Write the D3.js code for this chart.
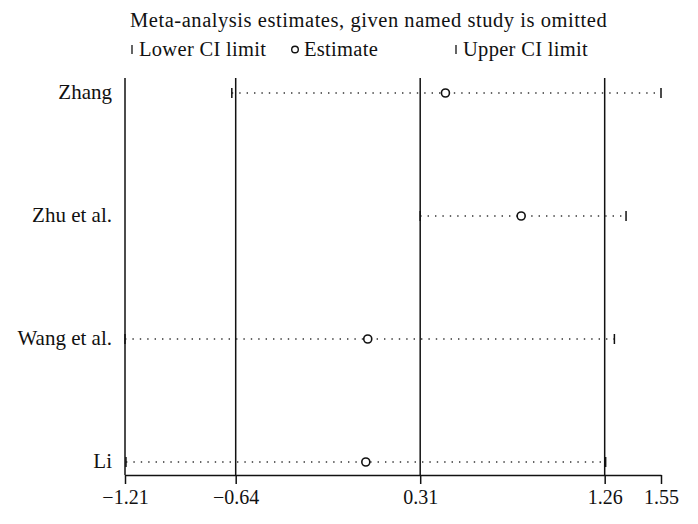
<!DOCTYPE html>
<html>
<head>
<meta charset="utf-8">
<script src="https://cdn.jsdelivr.net/npm/d3@7/dist/d3.min.js"></script>
<style>
html, body { margin: 0; padding: 0; background: #fff; }
svg { display: block; }
</style>
</head>
<body>
<svg id="chart" width="698" height="524"></svg>
<script>
// ---- data ----
const studies = ["Zhang", "Zhu et al.", "Wang et al.", "Li"];
const lowerCI = [-0.66, 0.31, -1.21, -1.205];
const estimate = [0.44, 0.83, 0.04, 0.03];
const upperCI = [1.55, 1.37, 1.31, 1.265];
const overall = [-0.64, 0.31, 1.26]; // lower, estimate, upper of full analysis
const tickValues = [-1.21, -0.64, 0.31, 1.26, 1.55];
const tickLabels = ["\u22121.21", "\u22120.64", "0.31", "1.26", "1.55"];
const title = "Meta-analysis estimates, given named study is omitted";
const legendLabels = ["Lower CI limit", "Estimate", "Upper CI limit"];

// ---- layout ----
const FONT = '"Liberation Serif", "Times New Roman", serif';
const svg = d3.select("#chart");
const x = d3.scaleLinear().domain([-1.21, 1.55]).range([125, 661]);
const y = d3.scalePoint().domain(studies).range([93, 462]);
const plotTop = 78, axisY = 475;

// title
svg.append("text").attr("x", 130).attr("y", 27)
  .style("font-family", FONT).style("font-size", "20.5px").style("letter-spacing", "0.55px")
  .attr("fill", "#111").text(title);

// legend
const lg = svg.append("g");
const legX = [132, 295, 456];
const legText = (xx, t) => lg.append("text").attr("x", xx).attr("y", 56)
  .style("font-family", FONT).style("font-size", "20.5px").style("letter-spacing", "0.3px")
  .attr("fill", "#111").text(t);
lg.append("line").attr("x1", legX[0]).attr("x2", legX[0]).attr("y1", 45).attr("y2", 54)
  .attr("stroke", "#111").attr("stroke-width", 1.3);
legText(legX[0] + 7, legendLabels[0]);
lg.append("circle").attr("cx", legX[1]).attr("cy", 49.5).attr("r", 3.3)
  .attr("fill", "none").attr("stroke", "#111").attr("stroke-width", 1.4);
legText(legX[1] + 9, legendLabels[1]);
lg.append("line").attr("x1", legX[2]).attr("x2", legX[2]).attr("y1", 45).attr("y2", 54)
  .attr("stroke", "#111").attr("stroke-width", 1.3);
legText(legX[2] + 7, legendLabels[2]);

// left axis line and reference vertical lines
svg.append("line").attr("x1", x(-1.21)).attr("x2", x(-1.21)).attr("y1", plotTop).attr("y2", axisY)
  .attr("stroke", "#111").attr("stroke-width", 1.5);
svg.selectAll("line.ref").data(overall).join("line").attr("class", "ref")
  .attr("x1", d => x(d)).attr("x2", d => x(d)).attr("y1", plotTop).attr("y2", axisY)
  .attr("stroke", "#111").attr("stroke-width", 1.5);

// bottom axis
const axis = d3.axisBottom(x).tickValues(tickValues)
  .tickFormat((d, i) => tickLabels[i]).tickSize(9).tickPadding(6).tickSizeOuter(0);
const ag = svg.append("g").attr("transform", `translate(0,${axisY})`).call(axis);
ag.attr("font-family", null).attr("font-size", null);
ag.select(".domain").attr("stroke", "#111").attr("stroke-width", 1.5);
ag.selectAll(".tick line").attr("stroke", "#111").attr("stroke-width", 1.5);
ag.selectAll(".tick text").style("font-size", "20px")
  .style("font-family", FONT).attr("fill", "#111");

// study labels
svg.selectAll("text.study").data(studies).join("text").attr("class", "study")
  .attr("x", 112).attr("y", d => y(d) + 6).attr("text-anchor", "end")
  .style("font-family", FONT).style("font-size", "21px").attr("fill", "#111").text(d => d);

// dotted connectors
svg.selectAll("line.dots").data(studies).join("line").attr("class", "dots")
  .attr("x1", (d, i) => x(lowerCI[i])).attr("x2", (d, i) => x(upperCI[i]))
  .attr("y1", d => y(d)).attr("y2", d => y(d))
  .attr("stroke", "#333").attr("stroke-width", 1.4).attr("stroke-dasharray", "1.4,6");

// lower CI ticks
svg.selectAll("line.lo").data(studies).join("line").attr("class", "lo")
  .attr("x1", (d, i) => x(lowerCI[i])).attr("x2", (d, i) => x(lowerCI[i]))
  .attr("y1", d => y(d) - 5).attr("y2", d => y(d) + 5)
  .attr("stroke", "#111").attr("stroke-width", 1.5);
// upper CI ticks
svg.selectAll("line.up").data(studies).join("line").attr("class", "up")
  .attr("x1", (d, i) => x(upperCI[i])).attr("x2", (d, i) => x(upperCI[i]))
  .attr("y1", d => y(d) - 5).attr("y2", d => y(d) + 5)
  .attr("stroke", "#111").attr("stroke-width", 1.5);
// estimates
svg.selectAll("circle.est").data(studies).join("circle").attr("class", "est")
  .attr("cx", (d, i) => x(estimate[i])).attr("cy", d => y(d)).attr("r", 4)
  .attr("fill", "#fff").attr("stroke", "#111").attr("stroke-width", 1.6);
</script>
</body>
</html>
